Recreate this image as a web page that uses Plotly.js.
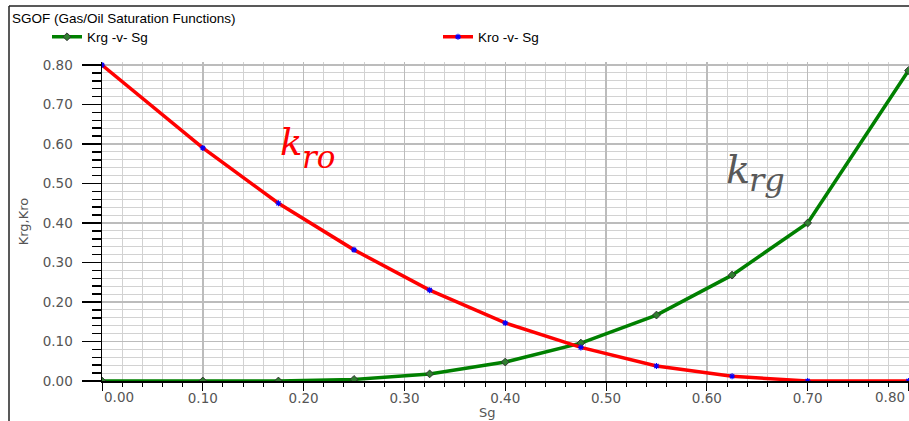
<!DOCTYPE html>
<html><head><meta charset="utf-8">
<script src="https://cdn.plot.ly/plotly-3.0.1.min.js"></script>
<style>html,body{margin:0;padding:0;background:#fff}#chart{width:909px;height:421px}</style>
</head><body><div id="chart"></div>
<script>
const chartTitle = 'SGOF (Gas/Oil Saturation Functions)';
const seriesNames = ['Krg -v- Sg', 'Kro -v- Sg'];
const sg  = [0.00, 0.10, 0.175, 0.25, 0.325, 0.40, 0.475, 0.55, 0.625, 0.70, 0.80];
const krg = [0.000, 0.000, 0.000, 0.004, 0.018, 0.048, 0.096, 0.167, 0.268, 0.400, 0.786];
const kro = [0.800, 0.590, 0.450, 0.332, 0.230, 0.147, 0.085, 0.038, 0.012, 0.000, 0.000];
const xTickVals = [0.0, 0.1, 0.2, 0.3, 0.4, 0.5, 0.6, 0.7, 0.8];
const xTickLabels = ['0.00', '0.10', '0.20', '0.30', '0.40', '0.50', '0.60', '0.70', '0.80'];
const yTickVals = [0.0, 0.1, 0.2, 0.3, 0.4, 0.5, 0.6, 0.7, 0.8];
const yTickLabels = ['0.00', '0.10', '0.20', '0.30', '0.40', '0.50', '0.60', '0.70', '0.80'];
const xTitle = 'Sg';
const yTitle = 'Krg,Kro';
const kroLabel = ['k', 'ro'];
const krgLabel = ['k', 'rg'];

const xRange = [0, 0.8005];
const last = xTickVals.length - 1;
const axisFont = {family: 'DejaVu Sans', size: 13.5, color: '#555555'};
const mathFont = (size, color) => ({family: 'DejaVu Serif', size: size, color: color});

const traces = [
  {x: sg, y: krg, name: seriesNames[0], type: 'scatter', mode: 'lines+markers',
   line: {color: '#008000', width: 3.5},
   marker: {symbol: 'diamond', size: 6, color: '#2f7f2f', line: {color: '#333333', width: 1}}},
  {x: sg, y: kro, name: seriesNames[1], type: 'scatter', mode: 'lines+markers',
   line: {color: '#ff0000', width: 3.5},
   marker: {symbol: 'asterisk-open', size: 5, color: '#0000ff', line: {color: '#0000ff', width: 1.2}}}
];

// first and last x tick labels sit inward of their ticks, as in the reference
const labelRowY = (381 - 397) / 319;
const edgeLabels = [
  {text: xTickLabels[0], xref: 'x', yref: 'paper', x: xTickVals[0], y: labelRowY,
   xanchor: 'left', yanchor: 'middle', showarrow: false, font: axisFont},
  {text: xTickLabels[last], xref: 'x', yref: 'paper', x: xTickVals[last], y: labelRowY, xshift: -2,
   xanchor: 'right', yanchor: 'middle', showarrow: false, font: axisFont}
];

const layout = {
  width: 909, height: 421,
  margin: {l: 102, r: 0, t: 62, b: 40, autoexpand: false},
  paper_bgcolor: '#ffffff', plot_bgcolor: '#ffffff',
  showlegend: true,
  title: {text: chartTitle, xref: 'container', yref: 'container', x: 12 / 909, xanchor: 'left',
          y: 1 - 18 / 421, yanchor: 'middle',
          font: {family: 'Liberation Sans', size: 13.5, color: '#000000'}},
  legend: {orientation: 'h', x: (47 - 102) / 807, xanchor: 'left', y: (381 - 37) / 319, yanchor: 'middle',
           entrywidth: 346, entrywidthmode: 'pixels', bgcolor: 'rgba(0,0,0,0)',
           font: {family: 'Liberation Sans', size: 13.5, color: '#000000'}},
  xaxis: {range: xRange, tickmode: 'array', tickvals: xTickVals,
          ticktext: xTickLabels.map((t, i) => (i === 0 || i === last) ? '' : t),
          ticklabelstandoff: -4,
          showline: true, linecolor: '#000000', linewidth: 1.5, mirror: false,
          ticks: 'outside', ticklen: 8, tickwidth: 1, tickcolor: '#000000', tickfont: axisFont,
          showgrid: true, gridcolor: '#bcbcbc', gridwidth: 1.5, zeroline: false,
          minor: {tickmode: 'linear', tick0: 0, dtick: 0.02, ticks: 'outside', ticklen: 4, tickcolor: '#000000',
                  showgrid: true, gridcolor: '#d2d2d2', gridwidth: 1}},
  yaxis: {range: [0, 0.8076], tickmode: 'array', tickvals: yTickVals, ticktext: yTickLabels,
          showline: true, linecolor: '#000000', linewidth: 1.5,
          ticks: 'outside', ticklen: 19, tickwidth: 1.5, tickcolor: '#000000', tickfont: axisFont,
          ticklabelstandoff: 6,
          title: {text: yTitle, font: {family: 'DejaVu Sans', size: 13, color: '#555555'}, standoff: 11},
          showgrid: true, gridcolor: '#bcbcbc', gridwidth: 1.5, zeroline: false,
          minor: {tickmode: 'linear', tick0: 0, dtick: 0.02, ticks: 'outside', ticklen: 9, tickcolor: '#000000',
                  showgrid: true, gridcolor: '#d2d2d2', gridwidth: 1}},
  shapes: [
    {type: 'line', xref: 'paper', yref: 'paper', x0: (9 - 102) / 807, x1: (9 - 102) / 807,
     y0: (381 - 430) / 319, y1: (381 - 6) / 319, line: {color: '#222222', width: 1.5}},
    {type: 'line', xref: 'paper', yref: 'paper', x0: (9 - 102) / 807, x1: 1.05,
     y0: (381 - 6) / 319, y1: (381 - 6) / 319, line: {color: '#222222', width: 1.5}}
  ],
  annotations: edgeLabels.concat([
    {text: xTitle, xref: 'paper', yref: 'paper', x: (487 - 102) / 807, y: (381 - 412) / 319,
     xanchor: 'center', yanchor: 'middle', showarrow: false,
     font: {family: 'DejaVu Sans', size: 13, color: '#555555'}},
    {text: '<i>' + kroLabel[0] + '</i>', xref: 'x', yref: 'y', x: 0.1746, y: 0.5445,
     xanchor: 'left', yanchor: 'bottom', showarrow: false, font: mathFont(37, '#ff0000')},
    {text: '<i>' + kroLabel[1] + '</i>', xref: 'x', yref: 'y', x: 0.1964, y: 0.5156,
     xanchor: 'left', yanchor: 'bottom', showarrow: false, font: mathFont(31, '#ff0000')},
    {text: '<i>' + krgLabel[0] + '</i>', xref: 'x', yref: 'y', x: 0.617, y: 0.473,
     xanchor: 'left', yanchor: 'bottom', showarrow: false, font: mathFont(40, '#595959')},
    {text: '<i>' + krgLabel[1] + '</i>', xref: 'x', yref: 'y', x: 0.640, y: 0.4548,
     xanchor: 'left', yanchor: 'bottom', showarrow: false, font: mathFont(32, '#595959')}
  ])
};

Plotly.newPlot('chart', traces, layout, {staticPlot: true, displayModeBar: false});
</script>
</body></html>
